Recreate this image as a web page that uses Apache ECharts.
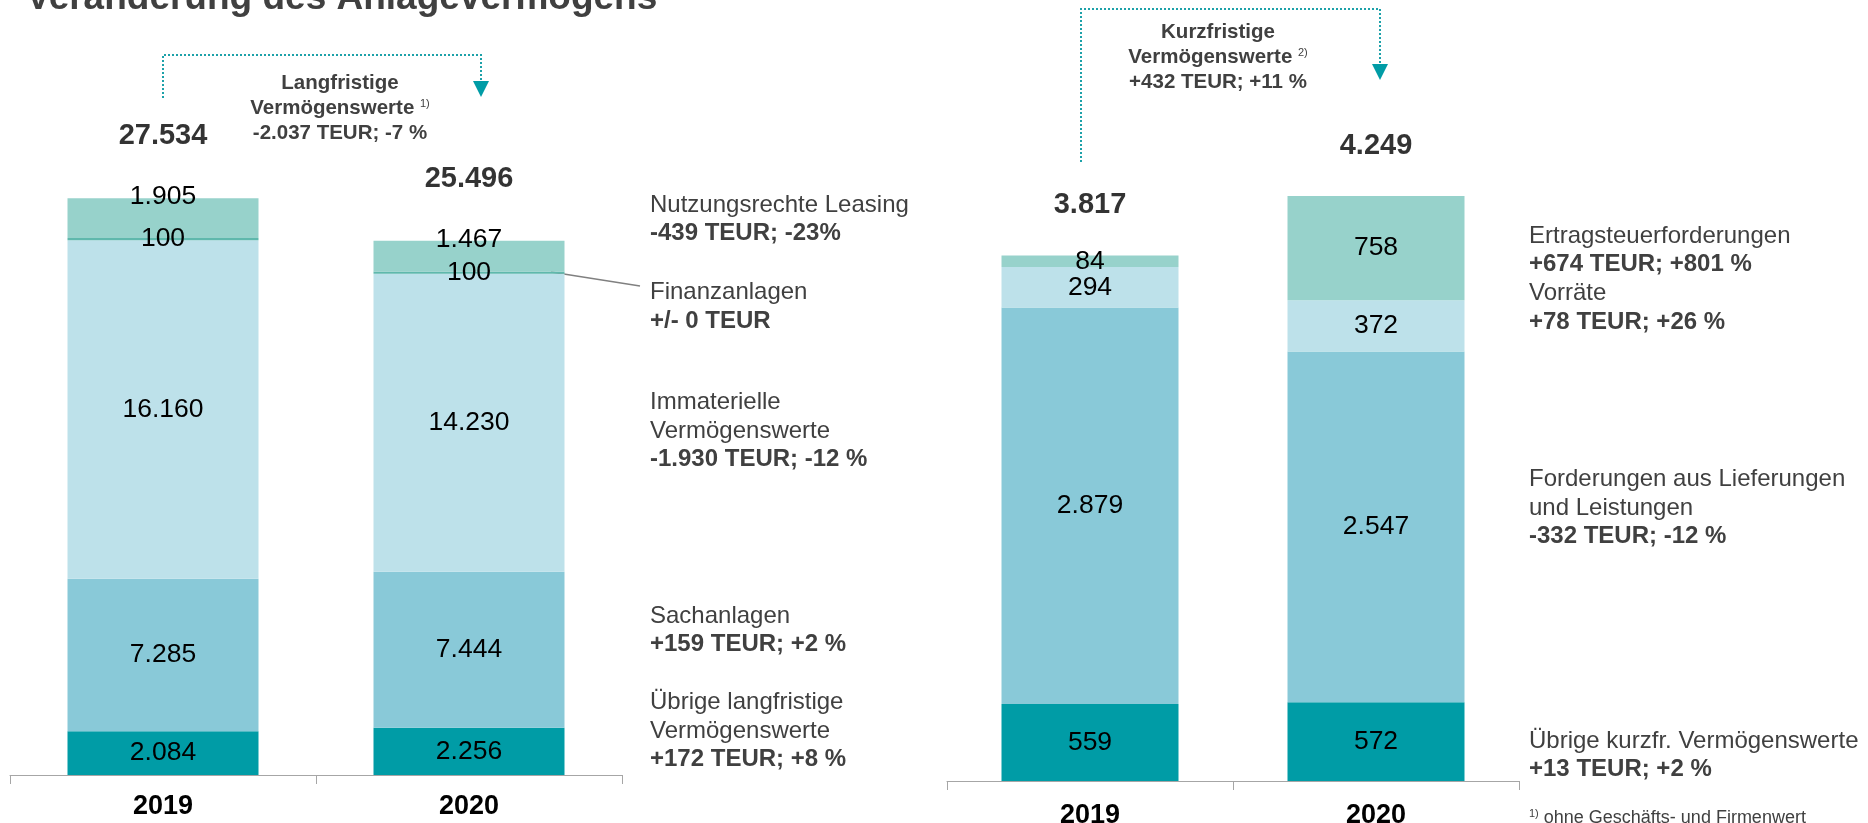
<!DOCTYPE html>
<html lang="de">
<head>
<meta charset="utf-8">
<title>Veränderung des Anlagevermögens</title>
<script src="https://cdn.jsdelivr.net/npm/echarts@6.0.0/dist/echarts.min.js"></script>
<style>
	html, body { margin: 0; padding: 0; background: #fff; }
	#chart { width: 1868px; height: 823px; }
</style>
</head>
<body>
<div id="chart"></div>
<script>
// Categories
const years = ["2019", "2020"];

// Langfristige Vermögenswerte (TEUR), bottom to top
const uebrigeLang = [2084, 2256];
const sachanlagen = [7285, 7444];
const immaterielle = [16160, 14230];
const finanzanlagen = [100, 100];
const leasing = [1905, 1467];
const totalLang = [27534, 25496];

// Kurzfristige Vermögenswerte (TEUR), bottom to top
const uebrigeKurz = [559, 572];
const forderungenLuL = [2879, 2547];
const vorraete = [294, 372];
const ertragsteuer = [84, 758];
const totalKurz = [3817, 4249];

const FONT = "'Liberation Sans', Arial, sans-serif";
const GREY = "#404040";
const C_TEAL = "#009CA6";
const C_MID = "#89C9D8";
const C_LIGHT = "#BDE1EA";
const C_GREEN = "#97D2CB";
const C_LINE = "#5FB8AC";

// German thousands separator
function fmt(v) {
	return String(v).replace(/\B(?=(\d{3})+(?!\d))/g, ".");
}

/**
 * One stacked segment series
 */
function segment(name, values, color, axis, width, extraLabel) {
	return {
		name: name,
		type: "bar",
		stack: "s" + axis,
		xAxisIndex: axis,
		yAxisIndex: axis,
		barWidth: width,
		data: values,
		silent: true,
		itemStyle: { color: color },
		label: Object.assign(
			{
				show: true,
				position: "inside",
				color: "#000",
				fontFamily: FONT,
				fontSize: 26.5,
				formatter: (p) => fmt(p.value),
			},
			extraLabel || {},
		),
	};
}

/**
 * Invisible points carrying the bar totals
 */
function totals(values, axis, distance) {
	return {
		type: "scatter",
		xAxisIndex: axis,
		yAxisIndex: axis,
		data: values,
		symbolSize: 1,
		silent: true,
		itemStyle: { color: "rgba(0,0,0,0)" },
		label: {
			show: true,
			position: "top",
			distance: distance,
			color: "#000",
			fontFamily: FONT,
			fontSize: 29,
			fontWeight: "bold",
			formatter: (p) => fmt(p.value),
		},
	};
}

function xAxisFor(grid, margin) {
	return {
		gridIndex: grid,
		type: "category",
		data: years,
		axisLine: { lineStyle: { color: "#A6A6A6", width: 1 } },
		axisTick: { show: true, length: 9, lineStyle: { color: "#A6A6A6" } },
		axisLabel: {
			color: "#000",
			fontFamily: FONT,
			fontSize: 27,
			fontWeight: "bold",
			margin: margin,
		},
	};
}

// Rich text styles for side notes
const richSide = {
	r: { fontFamily: FONT, fontSize: 24, fill: GREY, lineHeight: 28.7 },
	b: { fontFamily: FONT, fontSize: 24, fontWeight: "bold", fill: GREY, lineHeight: 28.7 },
};
const richHead = {
	h: { fontFamily: FONT, fontSize: 20.5, fontWeight: "bold", fill: GREY, lineHeight: 24.8 },
	s: { fontFamily: FONT, fontSize: 11, fill: GREY, lineHeight: 24.8, verticalAlign: "top", padding: [3, 0, 0, 0] },
};

function sideNote(x, y, text) {
	return {
		type: "text",
		x: x,
		y: y,
		silent: true,
		style: { text: text, rich: richSide, textAlign: "left", textVerticalAlign: "top" },
	};
}

function headNote(x, y, text) {
	return {
		type: "text",
		x: x,
		y: y,
		silent: true,
		style: { text: text, rich: richHead, textAlign: "center", textVerticalAlign: "top" },
	};
}

function bracket(points, tip) {
	return [
		{
			type: "polyline",
			silent: true,
			shape: { points: points },
			style: { stroke: "#1DA1A9", lineWidth: 2, lineDash: [2, 2], fill: null },
		},
		{
			type: "polygon",
			silent: true,
			shape: { points: [[tip[0] - 8, tip[1] - 16], [tip[0] + 8, tip[1] - 16], tip] },
			style: { fill: C_TEAL },
		},
	];
}

var chartDom = document.getElementById("chart");
var myChart = echarts.init(chartDom, null, { renderer: "canvas" });

var option = {
	animation: false,
	backgroundColor: "#fff",
	// labels may run past the bottom edge, as in the original slide
	grid: [
		{ left: 10, width: 612, top: 146.5, height: 628.5, outerBoundsMode: "none" },
		{ left: 947, width: 572, top: 92.5, height: 688.5, outerBoundsMode: "none" },
	],
	xAxis: [xAxisFor(0, 18), xAxisFor(1, 21)],
	yAxis: [
		{ gridIndex: 0, type: "value", min: 0, max: 30000, show: false },
		{ gridIndex: 1, type: "value", min: 0, max: 5000, show: false },
	],
	series: [
		segment("Übrige langfristige Vermögenswerte", uebrigeLang, C_TEAL, 0, 191),
		segment("Sachanlagen", sachanlagen, C_MID, 0, 191),
		segment("Immaterielle Vermögenswerte", immaterielle, C_LIGHT, 0, 191),
		segment("Finanzanlagen", finanzanlagen, C_LINE, 0, 191),
		segment("Nutzungsrechte Leasing", leasing, C_GREEN, 0, 191, {
			position: ["50%", 0],
			align: "center",
			verticalAlign: "middle",
			offset: [0, -1],
		}),
		totals(totalLang, 0, 47),

		segment("Übrige kurzfr. Vermögenswerte", uebrigeKurz, C_TEAL, 1, 177),
		segment("Forderungen aus Lieferungen und Leistungen", forderungenLuL, C_MID, 1, 177),
		segment("Vorräte", vorraete, C_LIGHT, 1, 177),
		segment("Ertragsteuerforderungen", ertragsteuer, C_GREEN, 1, 177),
		totals(totalKurz, 1, 35),
	],
	graphic: [
		// Title, cut at the top edge
		{
			type: "text",
			x: 26,
			y: -1,
			silent: true,
			style: {
				text: "Veränderung des Anlagevermögens",
				font: "bold 37px " + FONT,
				fill: GREY,
				textAlign: "left",
				textVerticalAlign: "middle",
			},
		},

		// Change brackets
		...bracket([[163, 98], [163, 55], [481, 55], [481, 82]], [481, 97]),
		...bracket([[1081, 162], [1081, 9], [1380, 9], [1380, 65]], [1380, 80]),
		headNote(340, 71, "{h|Langfristige}\n{h|Vermögenswerte }{s|1)}\n{h|-2.037 TEUR; -7 %}"),
		headNote(1218, 20, "{h|Kurzfristige}\n{h|Vermögenswerte }{s|2)}\n{h|+432 TEUR; +11 %}"),

		// Leader line to Finanzanlagen
		{
			type: "line",
			silent: true,
			shape: { x1: 551, y1: 272, x2: 640, y2: 286 },
			style: { stroke: "#808080", lineWidth: 1.5 },
		},

		// Side notes, left chart
		sideNote(650, 190.6, "{r|Nutzungsrechte Leasing}\n{b|-439 TEUR; -23%}"),
		sideNote(650, 278, "{r|Finanzanlagen}\n{b|+/- 0 TEUR}"),
		sideNote(650, 388, "{r|Immaterielle}\n{r|Vermögenswerte}\n{b|-1.930 TEUR; -12 %}"),
		sideNote(650, 601.6, "{r|Sachanlagen}\n{b|+159 TEUR; +2 %}"),
		sideNote(650, 688, "{r|Übrige langfristige}\n{r|Vermögenswerte}\n{b|+172 TEUR; +8 %}"),

		// Side notes, right chart
		sideNote(1529, 221.6, "{r|Ertragsteuerforderungen}\n{b|+674 TEUR; +801 %}\n{r|Vorräte}\n{b|+78 TEUR; +26 %}"),
		sideNote(1529, 465, "{r|Forderungen aus Lieferungen}\n{r|und Leistungen}\n{b|-332 TEUR; -12 %}"),
		sideNote(1529, 726.7, "{r|Übrige kurzfr. Vermögenswerte}\n{b|+13 TEUR; +2 %}"),

		// Footnote, cut at the bottom edge
		{
			type: "text",
			x: 1529,
			y: 808,
			silent: true,
			style: {
				text: "{s|1)}{f| ohne Geschäfts- und Firmenwert}",
				rich: {
					s: { fontFamily: FONT, fontSize: 11, fill: GREY, lineHeight: 21, verticalAlign: "top" },
					f: { fontFamily: FONT, fontSize: 18, fill: GREY, lineHeight: 21 },
				},
				textAlign: "left",
				textVerticalAlign: "top",
			},
		},
	],
};

myChart.setOption(option);
</script>
</body>
</html>
